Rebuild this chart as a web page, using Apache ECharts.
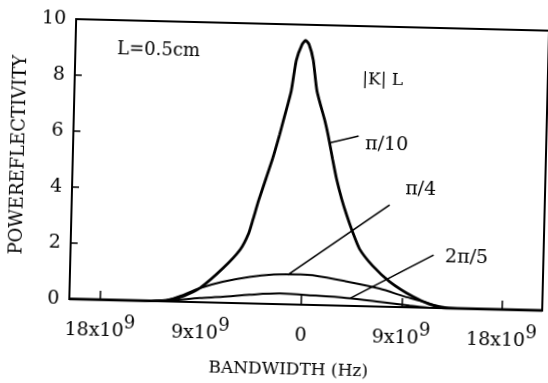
<!DOCTYPE html>
<html>
<head>
<meta charset="utf-8">
<script src="https://cdn.jsdelivr.net/npm/echarts@6/dist/echarts.min.js"></script>
<style>
  html, body { margin: 0; padding: 0; background: #fff; overflow: hidden; width: 548px; height: 383px; }
  #wrap { width: 548px; height: 383px; transform: rotate(1.4deg); transform-origin: 274px 191.5px; }
  #chart { width: 548px; height: 383px; }
</style>
</head>
<body>
<div id="wrap"><div id="chart"></div></div>
<script>
// x values in units of 1e9 Hz, y = power reflectivity
const xLabelValues = [-18, -9, 0, 9, 18];
const xTickValues = [-18, 0, 9, 18];
const yTicks = [0, 2, 4, 6, 8, 10];

const curvePi10 = [
  [-20.8, 0], [-14, 0], [-12.1, 0.04], [-10.5, 0.22], [-9.14, 0.5],
  [-7.08, 1.24], [-5.6, 1.91], [-4.87, 2.5], [-4.5, 3.02], [-4.05, 3.68],
  [-3.42, 4.5], [-2.88, 5.2], [-2.31, 6.06], [-1.98, 6.6], [-1.37, 7.62],
  [-0.98, 8.72], [-0.49, 9.30], [-0.19, 9.44], [0.13, 9.30], [0.54, 8.74],
  [0.94, 7.64], [1.74, 6.55], [2.05, 6.05], [2.49, 5.22], [2.89, 4.51],
  [3.39, 3.81], [3.87, 3.24], [4.4, 2.68], [5.1, 2.04], [6.31, 1.45],
  [7.87, 0.9], [9.96, 0.39], [11.5, 0.13], [13, 0], [21.6, 0]
];
const curvePi4 = [
  [-20.8, 0], [-14, 0], [-12.1, 0.04], [-10.47, 0.27], [-9.14, 0.5], [-7.1, 0.75],
  [-4.69, 0.95], [-2.54, 1.05], [-0.12, 1.08], [0.95, 1.06], [3.84, 0.88],
  [6.99, 0.64], [9.25, 0.38], [10.6, 0.25], [12.4, 0.06], [14, 0], [21.6, 0]
];
const curve2Pi5 = [
  [-20.8, 0], [-14, 0], [-11.81, 0.04], [-9.12, 0.15], [-7.06, 0.21], [-4.65, 0.31],
  [-1.96, 0.38], [0.99, 0.34], [4.05, 0.28], [7.02, 0.17], [9.71, 0.06],
  [11.5, 0], [21.6, 0]
];

// annotation anchors (data coordinates)
const leaders = [
  [[2.2, 5.8], [4.77, 6.07]],
  [[-1.29, 1.05], [7.7, 3.64]],
  [[4.41, 0.28], [11.75, 1.89]]
];
const notes = [
  { text: 'L=0.5cm', at: [-13.34, 8.97], size: 18 },
  { text: '|K| L', at: [6.8, 8.1], size: 17 },
  { text: 'π/10', at: [7.3, 5.78], size: 19 },
  { text: 'π/4', at: [10.45, 4.2], size: 19 },
  { text: '2π/5', at: [14.71, 1.81], size: 19 }
];

const FONT = 'DejaVu Serif';
const INK = '#000';

const chart = echarts.init(document.getElementById('chart'), null, { renderer: 'canvas' });

const option = {
  animation: false,
  backgroundColor: '#fff',
  grid: {
    left: 72, right: 3, top: 24, bottom: 79,
    show: true, borderColor: INK, borderWidth: 2, backgroundColor: 'transparent'
  },
  xAxis: {
    type: 'value', min: -20.8, max: 21.6,
    name: 'BANDWIDTH (Hz)', nameLocation: 'middle', nameGap: 57,
    nameTextStyle: { fontFamily: FONT, fontSize: 17, color: INK, padding: [0, 32, 0, 0] },
    axisLine: { show: true, onZero: false, lineStyle: { color: INK, width: 2 } },
    axisTick: { show: true, inside: true, length: 9, customValues: xTickValues, lineStyle: { color: INK, width: 1.5 } },
    splitLine: { show: false },
    axisLabel: {
      customValues: xLabelValues, margin: 14,
      formatter: v => v === 0 ? '{n|0}' : '{n|' + Math.abs(v) + 'x10}{s|9}',
      rich: {
        n: { fontFamily: FONT, fontSize: 19, color: INK, padding: [8, 0, 0, 0], verticalAlign: 'bottom' },
        s: { fontFamily: FONT, fontSize: 18, color: INK, verticalAlign: 'top' }
      }
    }
  },
  yAxis: {
    type: 'value', min: 0, max: 10, interval: 2,
    name: 'POWEREFLECTIVITY', nameLocation: 'middle', nameGap: 36, nameRotate: 90,
    nameTextStyle: { fontFamily: FONT, fontSize: 18, color: INK, padding: [0, 0, 0, 6] },
    axisLine: { show: true, onZero: false, lineStyle: { color: INK, width: 2 } },
    axisTick: { show: true, inside: true, length: 7, lineStyle: { color: INK, width: 1.5 } },
    splitLine: { show: false },
    axisLabel: { fontFamily: FONT, fontSize: 19, color: INK, margin: 10 }
  },
  series: [
    {
      name: 'π/10', type: 'line', data: curvePi10, showSymbol: false, symbol: 'none',
      smooth: 0.2, lineStyle: { color: INK, width: 2.8 }, z: 3
    },
    {
      name: 'π/4', type: 'line', data: curvePi4, showSymbol: false, symbol: 'none',
      smooth: 0.3, lineStyle: { color: INK, width: 2 }, z: 2
    },
    {
      name: '2π/5', type: 'line', data: curve2Pi5, showSymbol: false, symbol: 'none',
      smooth: 0.3, lineStyle: { color: INK, width: 2 }, z: 2,
      markLine: {
        silent: true, symbol: 'none', animation: false,
        label: { show: false },
        lineStyle: { color: INK, width: 1.6, type: 'solid' },
        data: leaders.map(([a, b]) => [{ coord: a }, { coord: b }])
      }
    }
  ]
};
chart.setOption(option);

const graphics = notes.map(n => {
  const p = chart.convertToPixel({ gridIndex: 0 }, n.at);
  return {
    type: 'text', x: p[0], y: p[1], silent: true,
    style: { text: n.text, fontFamily: FONT, fontSize: n.size, fill: INK, align: 'center', verticalAlign: 'middle' }
  };
});
chart.setOption({ graphic: graphics });
</script>
</body>
</html>
